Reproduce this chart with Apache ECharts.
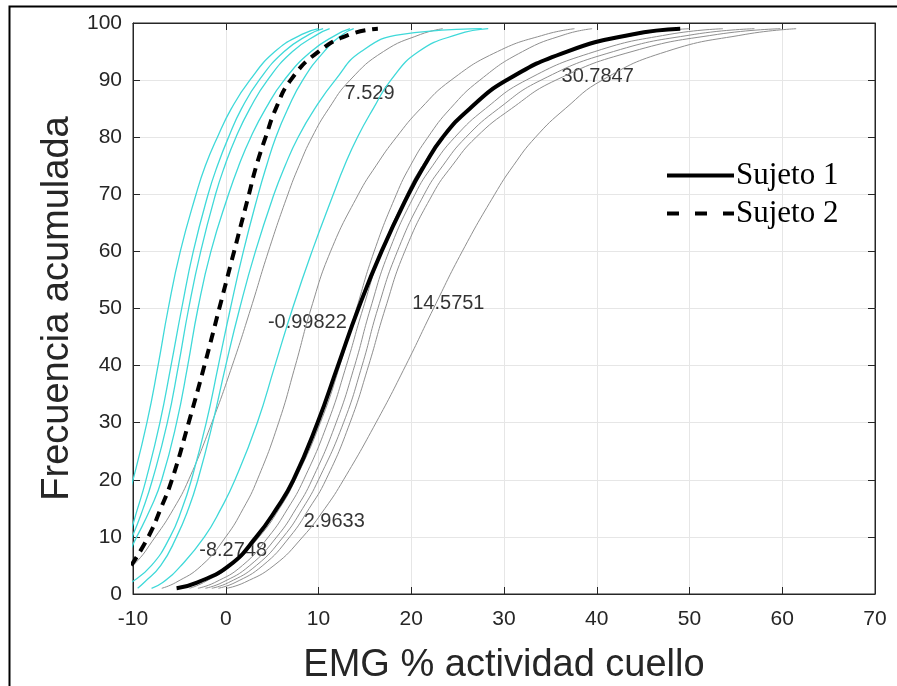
<!DOCTYPE html>
<html>
<head>
<meta charset="utf-8">
<script src="https://cdn.jsdelivr.net/npm/echarts@6/dist/echarts.min.js"></script>
<style>
  html, body { margin: 0; padding: 0; background: #fff; }
  #chart { width: 897px; height: 686px; }
</style>
</head>
<body>
<div id="chart"></div>
<script>
// cumulative frequency levels (%) shared by every curve
const levels = [1, 2, 5, 10, 15, 20, 30, 40, 50, 60, 70, 75, 80, 85, 90, 95, 98, 99];

// EMG value reached at each level
const sujeto1 = [-5.3, -3.1, 0.4, 3.3, 5.5, 7.3, 9.9, 12.1, 14.3, 16.8, 19.7, 21.4, 23.4, 26.3, 30.3, 36.8, 43.8, 49.0];
const sujeto2 = [null, null, -10.2, -8.35, -7.0, -5.8, -4.0, -2.3, -0.7, 0.9, 2.5, 3.3, 4.3, 5.4, 7.0, 10.0, 13.4, 16.4];

const cyanCurves = [
  [-16, -15, -13.5, -12.0, -10.9, -10.0, -8.5, -7.3, -6.2, -4.9, -3.2, -2.2, -0.9, 0.6, 2.6, 5.3, 8.2, 10.0],
  [-14.5, -13.5, -12.0, -10.5, -9.5, -8.6, -7.1, -5.9, -4.75, -3.5, -1.9, -0.9, 0.3, 1.7, 3.6, 6.3, 9.0, 10.5],
  [-14, -13, -11.6, -10.1, -8.9, -7.9, -6.3, -5.1, -4.0, -2.7, -1.1, -0.1, 1.1, 2.6, 4.5, 7.2, 9.9, 11.2],
  [-13.5, -12.6, -11.2, -9.6, -8.1, -6.9, -5.3, -4.1, -3.0, -1.6, 0.3, 1.4, 2.7, 4.3, 6.3, 9.2, 12.0, 13.4],
  [-11.5, -10.2, -8.0, -6.0, -4.7, -3.7, -2.1, -0.8, 0.5, 1.9, 3.5, 4.4, 5.4, 6.7, 8.3, 10.6, 12.6, 13.8],
  [-9.5, -8.8, -7.0, -5.3, -4.0, -3.0, -1.4, 0.0, 1.5, 3.2, 5.2, 6.4, 7.8, 9.6, 11.8, 14.6, 19.0, 27.6],
  [-8.0, -6.8, -4.8, -2.3, -0.5, 1.0, 3.4, 5.3, 7.2, 9.3, 11.6, 12.8, 14.2, 15.9, 17.8, 20.8, 25.0, 28.3]
];

const grayCurves = [
  [-14, -12.5, -10.0, -7.6, -5.6, -4.0, -1.5, 0.7, 2.7, 4.6, 6.7, 7.9, 9.3, 11.1, 13.4, 17.0, 21.0, 23.4],
  [-6.9, -5.4, -2.6, 0.0, 1.9, 3.4, 5.7, 7.5, 9.2, 11.3, 14.3, 16.2, 18.4, 21.0, 24.3, 29.3, 34.5, 37.6],
  [-3.9, -2.4, 0.6, 3.6, 5.8, 7.5, 10.2, 12.3, 14.1, 16.0, 18.4, 19.9, 21.8, 24.2, 27.4, 32.0, 36.6, 39.5],
  [-3.0, -1.2, 1.8, 4.6, 6.7, 8.4, 11.0, 13.0, 14.8, 16.8, 19.5, 21.2, 23.4, 26.4, 30.4, 37.0, 44.5, 50.0],
  [-2.2, -0.4, 2.6, 5.5, 7.6, 9.3, 11.9, 13.9, 15.6, 17.6, 20.4, 22.3, 24.7, 28.0, 32.4, 39.8, 47.8, 53.6],
  [-1.5, 0.3, 3.3, 6.2, 8.3, 10.0, 12.7, 14.7, 16.4, 18.5, 21.4, 23.4, 25.9, 29.4, 34.0, 41.8, 50.5, 57.0],
  [-0.8, 1.0, 4.0, 6.9, 9.0, 10.8, 13.4, 15.4, 17.2, 19.3, 22.3, 24.4, 27.0, 30.8, 35.6, 43.8, 53.0, 59.8],
  [0.1, 2.0, 5.2, 8.3, 10.7, 12.7, 16.2, 19.4, 22.4, 25.5, 29.0, 31.0, 33.4, 36.6, 40.6, 47.5, 56.0, 61.5]
];

// text annotations: [x, y, text]
const annotations = [
  [15.5, 87.7, '7.529'],
  [40.1, 90.7, '30.7847'],
  [8.8, 47.6, '-0.99822'],
  [24.0, 50.8, '14.5751'],
  [0.8, 7.7, '-8.2748'],
  [11.7, 12.7, '2.9633']
];

const toPoints = xs => xs.map((x, i) => [x, levels[i]]);

const series = [];
grayCurves.forEach(c => series.push({
  type: 'line', data: toPoints(c), smooth: true, symbol: 'none', silent: true,
  lineStyle: { color: '#8f8f8f', width: 1 }
}));
cyanCurves.forEach(c => series.push({
  type: 'line', data: toPoints(c), smooth: true, symbol: 'none', silent: true,
  lineStyle: { color: '#3fd9d9', width: 1.3 }
}));
series.push({
  name: 'Sujeto 1', type: 'line', data: toPoints(sujeto1), smooth: true, symbol: 'none',
  lineStyle: { color: '#000', width: 4 }, itemStyle: { color: '#000' }
});
series.push({
  name: 'Sujeto 2', type: 'line', data: toPoints(sujeto2), smooth: true, symbol: 'none',
  lineStyle: { color: '#000', width: 4, type: [10, 7] }, itemStyle: { color: '#000' }
});
series.push({
  type: 'scatter', symbolSize: 0, silent: true,
  data: annotations.map(a => ({ value: [a[0], a[1]], name: a[2] })),
  label: {
    show: true, position: 'inside', formatter: p => p.name,
    fontFamily: 'Liberation Sans', fontSize: 20, color: '#000'
  }
});

const axisColor = '#262626';
const tickFont = { fontFamily: 'Liberation Sans', fontSize: 21, color: axisColor };

const chart = echarts.init(document.getElementById('chart'));
chart.setOption({
  animation: false,
  backgroundColor: '#fff',
  grid: {
    left: 133, right: 22, top: 23, bottom: 92, outerBoundsMode: 'none',
    show: true, borderColor: axisColor, borderWidth: 1
  },
  legend: {
    data: [
      { name: 'Sujeto 1', lineStyle: { width: 4 } },
      { name: 'Sujeto 2', lineStyle: { width: 4, type: [12, 16] } }
    ],
    orient: 'vertical', left: 660, top: 155,
    itemWidth: 67, itemHeight: 14, itemGap: 7, selectedMode: false,
    itemStyle: { opacity: 0 },
    textStyle: { fontFamily: 'Liberation Serif', fontSize: 31, color: '#000', padding: [0, 0, 0, -3] }
  },
  xAxis: [{
    type: 'value', min: -10, max: 70, interval: 10,
    name: 'EMG % actividad cuello', nameLocation: 'middle', nameGap: 53,
    nameTextStyle: { fontFamily: 'Liberation Sans', fontSize: 38, color: axisColor },
    axisLine: { onZero: false, lineStyle: { color: axisColor } },
    axisTick: { inside: true, length: 7, lineStyle: { color: axisColor } },
    axisLabel: Object.assign({ margin: 15 }, tickFont),
    splitLine: { lineStyle: { color: '#e6e6e6' } }
  }, {
    type: 'value', min: -10, max: 70, interval: 10, position: 'top',
    axisLine: { onZero: false, lineStyle: { color: axisColor } },
    axisTick: { inside: true, length: 7, lineStyle: { color: axisColor } },
    axisLabel: { show: false }, splitLine: { show: false }
  }],
  yAxis: [{
    type: 'value', min: 0, max: 100, interval: 10,
    name: 'Frecuencia acumulada', nameLocation: 'middle', nameGap: 56,
    nameTextStyle: { fontFamily: 'Liberation Sans', fontSize: 38, color: axisColor },
    axisLine: { show: true, onZero: false, lineStyle: { color: axisColor } },
    axisTick: { show: true, inside: true, length: 7, lineStyle: { color: axisColor } },
    axisLabel: Object.assign({ margin: 11 }, tickFont),
    splitLine: { lineStyle: { color: '#e6e6e6' } }
  }, {
    type: 'value', min: 0, max: 100, interval: 10, position: 'right',
    axisLine: { show: true, onZero: false, lineStyle: { color: axisColor } },
    axisTick: { show: true, inside: true, length: 7, lineStyle: { color: axisColor } },
    axisLabel: { show: false }, splitLine: { show: false }
  }],
  graphic: [{
    type: 'rect', left: 7, top: 4, silent: true,
    shape: { width: 1000, height: 1000 },
    style: { fill: 'none', stroke: '#000', lineWidth: 2 }
  }],
  series: series
});
</script>
</body>
</html>
